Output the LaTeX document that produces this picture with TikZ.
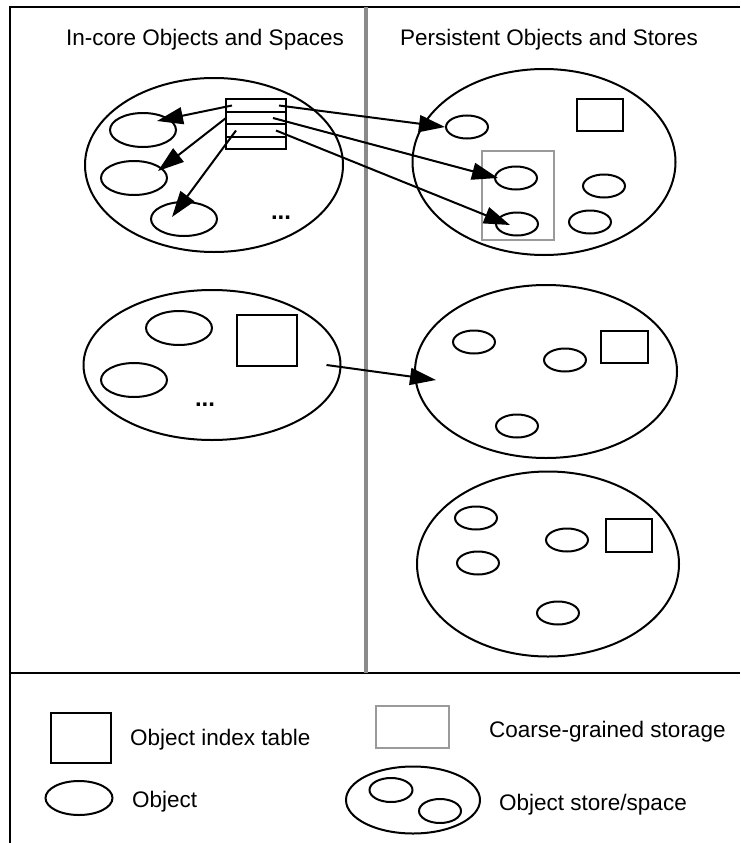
\documentclass[tikz,border=0pt]{standalone}
\usepackage{fontspec}
\setmainfont{Liberation Sans}
\usepackage{tikz}
\usetikzlibrary{arrows.meta,positioning,shapes.geometric}
\definecolor{divgray}{HTML}{8A8A8A}
\definecolor{boxgray}{HTML}{9A9A9A}

\begin{document}
\begin{tikzpicture}[
  x=1pt,y=-1pt,
  font=\fontsize{22.5}{27}\selectfont,
  store/.style={ellipse,draw,line width=2pt,inner sep=0pt},
  obj/.style={ellipse,draw,line width=2pt,minimum width=66pt,minimum height=34pt,inner sep=0pt},
  pobj/.style={obj,minimum width=42pt,minimum height=23pt},
  idx/.style={draw,line width=2.2pt,inner sep=0pt},
  idxrow/.style={draw,line width=2pt,minimum width=60pt,minimum height=12.5pt,inner sep=0pt},
  grain/.style={draw=boxgray,line width=2pt,inner sep=0pt},
  legtext/.style={anchor=west,inner sep=0pt},
  dots/.style={font=\fontsize{24}{28}\selectfont\bfseries,inner sep=0pt},
  ptr/.style={-{Triangle[length=26pt,width=17pt]},line width=2pt}
]
\useasboundingbox (0,0) rectangle (740,843);
% frame
\draw[line width=2pt] (10,843) -- (10,7) -- (740,7);
\draw[line width=2pt] (10,673) -- (740,673);
\draw[divgray,line width=3.5pt] (366,7) -- (366,673);
\node (ttlcore) at (205,40) {In-core Objects and Spaces};
\node (ttlpers) at (549,40) {Persistent Objects and Stores};

% in-core spaces
\node[store,minimum width=258pt,minimum height=174pt] (core1) at (214,165) {};
\node[obj] (e1) at (143,130) {};
\node[obj] (e2) at (134,178) {};
\node[obj] (e3) at (184,219) {};
\node[idxrow] (t1) at (256,105.5) {};
\node[idxrow] (t2) at (256,118) {};
\node[idxrow] (t3) at (256,130.5) {};
\node[idxrow] (t4) at (256,143) {};
\node[dots] (more1) at (281,218) {...};

\node[store,minimum width=257pt,minimum height=150pt] (core2) at (212,365) {};
\node[obj] (q1) at (179,328) {};
\node[obj] (q2) at (134,380) {};
\node[idx,minimum width=60pt,minimum height=51pt] (tq) at (267,340.5) {};
\node[dots] (more2) at (205,405) {...};

% persistent stores
\node[store,minimum width=263pt,minimum height=186pt] (pers1) at (544,162) {};
\node[grain,minimum width=72pt,minimum height=89pt] (cg) at (518,195.5) {};
\node[pobj] (p1) at (467,127) {};
\node[pobj] (p2) at (516,178) {};
\node[pobj] (p3) at (517,224) {};
\node[pobj] (p4) at (604,186) {};
\node[pobj] (p5) at (590,222) {};
\node[idx,minimum width=46pt,minimum height=32pt] (tp) at (600,115) {};

\node[store,minimum width=262pt,minimum height=173pt] (pers2) at (546,371.5) {};
\node[pobj] (r1) at (474,342) {};
\node[pobj] (r2) at (565,360) {};
\node[pobj] (r3) at (517,426) {};
\node[idx,minimum width=47pt,minimum height=32pt] (tr) at (624.5,347) {};

\node[store,minimum width=262pt,minimum height=185pt] (pers3) at (548,564) {};
\node[pobj] (s1) at (476,518) {};
\node[pobj] (s2) at (478,563) {};
\node[pobj] (s3) at (567,540) {};
\node[pobj] (s4) at (558,613) {};
\node[idx,minimum width=46pt,minimum height=33pt] (ts) at (629,535.5) {};

% pointers
\draw[ptr] ([xshift=7pt]t1.west) -- ([xshift=14pt,yshift=9pt]e1.center);
\draw[ptr] ([xshift=1pt]t2.west) -- ([xshift=24pt,yshift=7pt]e2.center);
\draw[ptr] ([xshift=11pt]t3.west) -- ([xshift=-12pt,yshift=2pt]e3.center);
\draw[ptr] ([xshift=-8pt]t1.east) -- (p1.west);
\draw[ptr] ([xshift=-14pt]t2.east) -- ([xshift=4pt]p2.west);
\draw[ptr] ([xshift=-11pt]t3.east) -- ([xshift=-7pt,yshift=-1pt]p3.center);
\draw[ptr] ([xshift=-15pt]core2.east) -- ([xshift=22pt,yshift=-8.5pt]pers2.west);

% legend
\node[idx,minimum width=60pt,minimum height=50pt] (legidx) at (81,738) {};
\node[legtext] (legidxt) at (130,740) {Object index table};
\node[obj,minimum width=67pt] (legobj) at (79,798) {};
\node[legtext] (legobjt) at (132,802) {Object};
\node[grain,minimum width=73pt,minimum height=42pt] (legcg) at (412.5,727) {};
\node[legtext] (legcgt) at (489,732) {Coarse-grained storage};
\node[store,minimum width=134pt,minimum height=67pt] (legst) at (413,800) {};
\node[pobj,minimum width=43pt,minimum height=24pt] (legst1) at (391,790) {};
\node[pobj,minimum height=24pt] (legst2) at (440,811) {};
\node[legtext] (legstt) at (499,805) {Object store/space};
\end{tikzpicture}
\end{document}
